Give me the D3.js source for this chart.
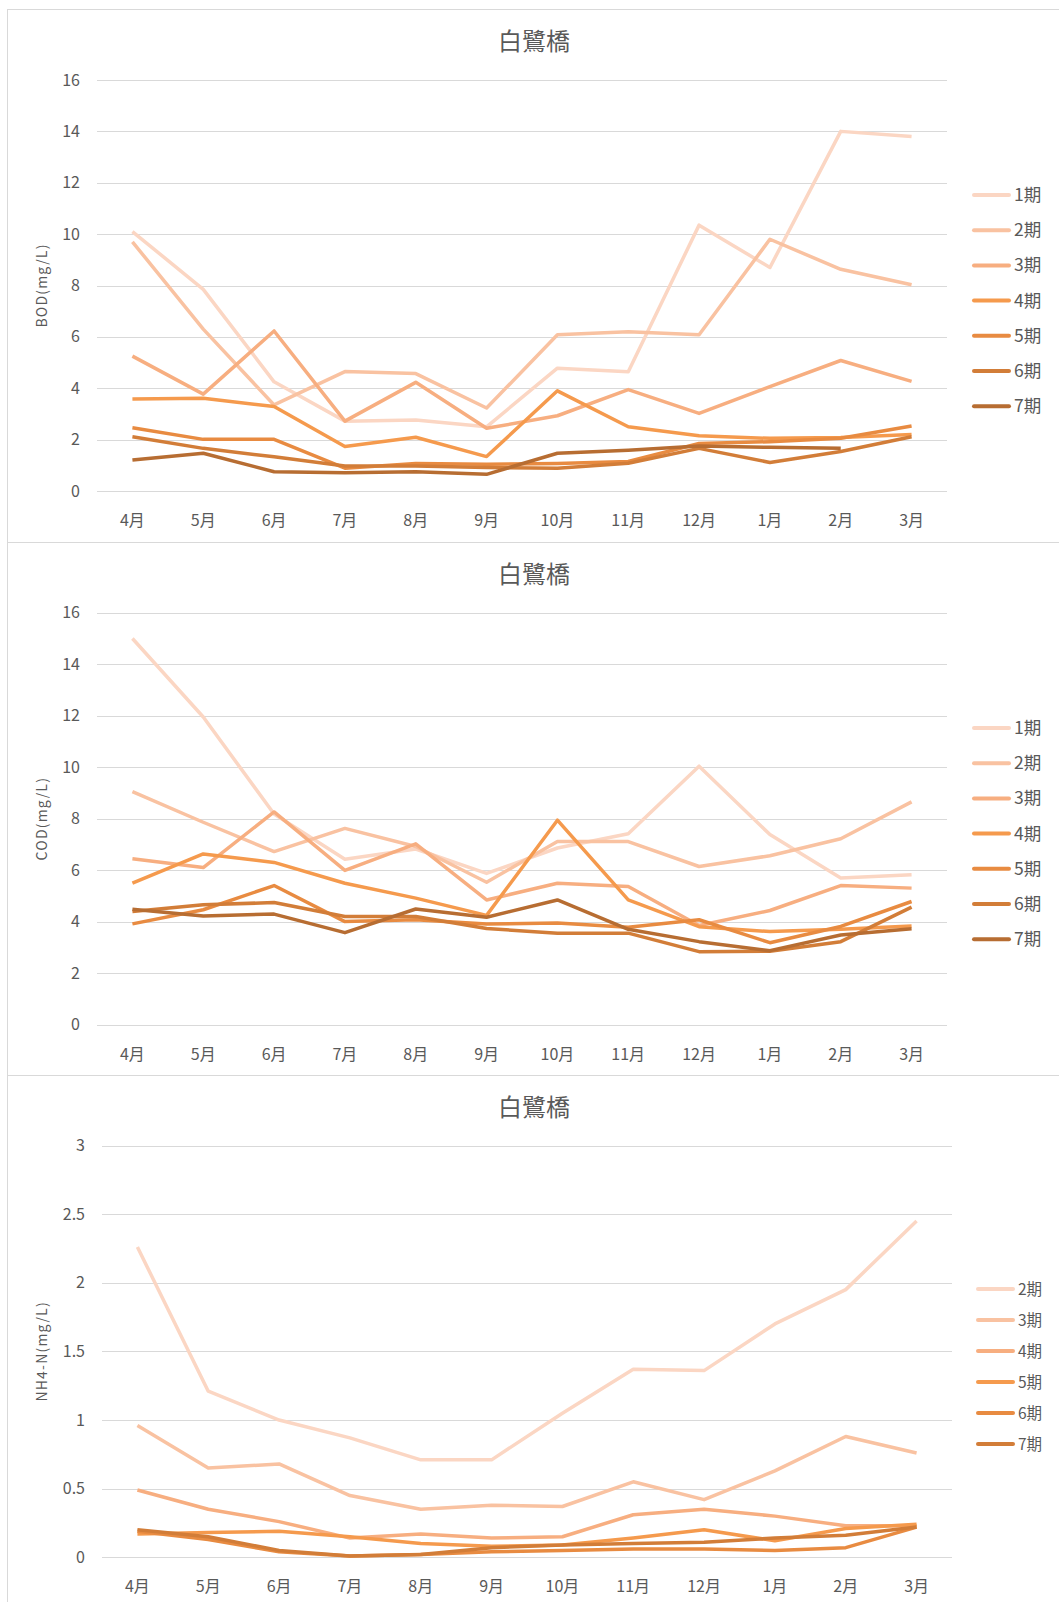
<!DOCTYPE html>
<html>
<head>
<meta charset="utf-8">
<script src="https://cdn.jsdelivr.net/npm/d3@7"></script>
<style>
  body { margin: 0; background: #fff; }
  svg text { font-family: "Noto Sans CJK JP", "Noto Sans", sans-serif; fill: #595959; }
</style>
</head>
<body>
<svg id="chart" width="1059" height="1602"></svg>
<script>
const months = ["4月", "5月", "6月", "7月", "8月", "9月", "10月", "11月", "12月", "1月", "2月", "3月"];
const colors = ["#FBD6C3", "#F9C2A1", "#F7AE80", "#F59A4D", "#E88B41", "#D27D38", "#B76D32"];

const bodNames = ["1期", "2期", "3期", "4期", "5期", "6期", "7期"];
const bod1 = [10.1, 7.85, 4.25, 2.72, 2.76, 2.5, 4.78, 4.64, 10.35, 8.7, 14.0, 13.8];
const bod2 = [9.7, 6.3, 3.35, 4.65, 4.57, 3.23, 6.08, 6.2, 6.08, 9.8, 8.63, 8.03];
const bod3 = [5.25, 3.77, 6.23, 2.72, 4.23, 2.44, 2.93, 3.95, 3.02, 4.06, 5.08, 4.27];
const bod4 = [3.58, 3.61, 3.29, 1.73, 2.09, 1.34, 3.9, 2.5, 2.15, 2.05, 2.08, 2.2];
const bod5 = [2.46, 2.01, 2.01, 0.89, 1.07, 1.04, 1.07, 1.15, 1.85, 1.92, 2.05, 2.53];
const bod6 = [2.11, 1.66, 1.33, 0.97, 0.97, 0.91, 0.89, 1.08, 1.66, 1.11, 1.54, 2.11];
const bod7 = [1.21, 1.47, 0.75, 0.71, 0.75, 0.65, 1.47, 1.59, 1.75, 1.7, 1.66, null];

const codNames = ["1期", "2期", "3期", "4期", "5期", "6期", "7期"];
const cod1 = [15.0, 11.95, 8.18, 6.42, 6.82, 5.87, 6.86, 7.41, 10.04, 7.38, 5.69, 5.82];
const cod2 = [9.05, 7.86, 6.72, 7.62, 6.92, 5.53, 7.11, 7.11, 6.14, 6.56, 7.22, 8.65];
const cod3 = [6.44, 6.1, 8.26, 5.99, 7.02, 4.84, 5.49, 5.36, 3.85, 4.43, 5.4, 5.3];
const cod4 = [5.49, 6.63, 6.3, 5.49, 4.91, 4.24, 7.94, 4.84, 3.8, 3.61, 3.7, 3.83];
const cod5 = [3.91, 4.46, 5.4, 4.0, 4.07, 3.91, 3.94, 3.78, 4.07, 3.18, 3.81, 4.78];
const cod6 = [4.39, 4.65, 4.74, 4.2, 4.2, 3.73, 3.55, 3.55, 2.83, 2.85, 3.22, 4.56];
const cod7 = [4.48, 4.22, 4.29, 3.57, 4.49, 4.17, 4.84, 3.7, 3.22, 2.87, 3.48, 3.72];

const nhNames = ["2期", "3期", "4期", "5期", "6期", "7期"];
const nh2 = [2.26, 1.21, 1.0, 0.87, 0.71, 0.71, 1.05, 1.37, 1.36, 1.7, 1.95, 2.45];
const nh3 = [0.96, 0.65, 0.68, 0.45, 0.35, 0.38, 0.37, 0.55, 0.42, 0.63, 0.88, 0.76];
const nh4 = [0.49, 0.35, 0.26, 0.14, 0.17, 0.14, 0.15, 0.31, 0.35, 0.3, 0.23, 0.23];
const nh5 = [0.17, 0.18, 0.19, 0.15, 0.1, 0.08, 0.09, 0.14, 0.2, 0.12, 0.21, 0.24];
const nh6 = [0.19, 0.13, 0.04, 0.01, 0.02, 0.04, 0.05, 0.06, 0.06, 0.05, 0.07, 0.22];
const nh7 = [0.2, 0.15, 0.05, 0.01, 0.02, 0.07, 0.09, 0.1, 0.11, 0.14, 0.16, 0.22];

const svg = d3.select("#chart");

function drawPanel(opt) {
    const g = svg.append("g");

    // panel frame
    g.append("rect")
        .attr("x", 7.5).attr("y", opt.top + 0.5)
        .attr("width", 1060).attr("height", opt.bottom - opt.top)
        .attr("fill", "none").attr("stroke", "#D9D9D9");

    const x = d3.scaleBand().domain(months).range(opt.xr);
    const y = d3.scaleLinear().domain([0, opt.max]).range(opt.yr);

    // gridlines
    g.append("g").selectAll("line")
        .data(opt.ticks)
        .enter()
        .append("line")
        .attr("x1", opt.xr[0]).attr("x2", opt.xr[1])
        .attr("y1", (d) => Math.round(y(d)) + 0.5)
        .attr("y2", (d) => Math.round(y(d)) + 0.5)
        .attr("stroke", "#D9D9D9").attr("stroke-width", 1);

    // y tick labels
    g.append("g").selectAll("text")
        .data(opt.ticks)
        .enter()
        .append("text")
        .attr("x", opt.labelX)
        .attr("y", (d) => y(d) + 5.5)
        .attr("text-anchor", "end")
        .attr("font-size", "16px")
        .text((d) => d);

    // x tick labels
    g.append("g").selectAll("text")
        .data(months)
        .enter()
        .append("text")
        .attr("x", (d) => x(d) + x.bandwidth() / 2)
        .attr("y", opt.yr[0] + 35)
        .attr("text-anchor", "middle")
        .attr("font-size", "16px")
        .text((d) => d);

    // title
    g.append("text")
        .attr("x", 534).attr("y", opt.top + 41)
        .attr("text-anchor", "middle")
        .attr("font-size", "24px")
        .text("白鷺橋");

    // axis title
    g.append("text")
        .attr("transform", `translate(47,${(opt.yr[0] + opt.yr[1]) / 2}) rotate(-90)`)
        .attr("text-anchor", "middle")
        .attr("font-size", "14px")
        .attr("letter-spacing", "1.2px")
        .attr("font-family", "DejaVu Sans")
        .text(opt.axisTitle);

    const line = d3.line()
        .defined((d) => d != null)
        .x((d, i) => x(months[i]) + x.bandwidth() / 2)
        .y((d) => y(d));

    g.append("g").selectAll("path")
        .data(opt.series)
        .enter()
        .append("path")
        .attr("d", (d) => line(d))
        .attr("fill", "none")
        .attr("stroke", (d, i) => colors[i])
        .attr("stroke-width", 3.5)
        .attr("stroke-linejoin", "round");

    // legend
    const lg = g.append("g").selectAll("g")
        .data(opt.names)
        .enter()
        .append("g")
        .attr("transform", (d, i) => `translate(0,${opt.legendTop + i * opt.legendStep})`);

    lg.append("line")
        .attr("x1", opt.legendX).attr("x2", opt.legendX + 35)
        .attr("y1", 0).attr("y2", 0)
        .attr("stroke", (d, i) => colors[i])
        .attr("stroke-width", 4)
        .attr("stroke-linecap", "round");

    lg.append("text")
        .attr("x", opt.legendX + 40)
        .attr("y", 6)
        .attr("font-size", opt.legendFont)
        .text((d) => d);
}

drawPanel({
    top: 9, bottom: 542,
    xr: [97, 947], yr: [491, 80], max: 16,
    ticks: [0, 2, 4, 6, 8, 10, 12, 14, 16], labelX: 80,
    axisTitle: "BOD(mg/L)",
    series: [bod1, bod2, bod3, bod4, bod5, bod6, bod7],
    names: bodNames,
    legendX: 974, legendTop: 195, legendStep: 35.2, legendFont: "17.5px"
});

drawPanel({
    top: 542, bottom: 1075,
    xr: [97, 947], yr: [1024.5, 612.8], max: 16,
    ticks: [0, 2, 4, 6, 8, 10, 12, 14, 16], labelX: 80,
    axisTitle: "COD(mg/L)",
    series: [cod1, cod2, cod3, cod4, cod5, cod6, cod7],
    names: codNames,
    legendX: 974, legendTop: 728, legendStep: 35.2, legendFont: "17.5px"
});

drawPanel({
    top: 1075, bottom: 1603,
    xr: [102, 952], yr: [1557.3, 1145.5], max: 3,
    ticks: [0, 0.5, 1, 1.5, 2, 2.5, 3], labelX: 85,
    axisTitle: "NH4-N(mg/L)",
    series: [nh2, nh3, nh4, nh5, nh6, nh7],
    names: nhNames,
    legendX: 978, legendTop: 1289, legendStep: 31, legendFont: "15.5px"
});
</script>
</body>
</html>
